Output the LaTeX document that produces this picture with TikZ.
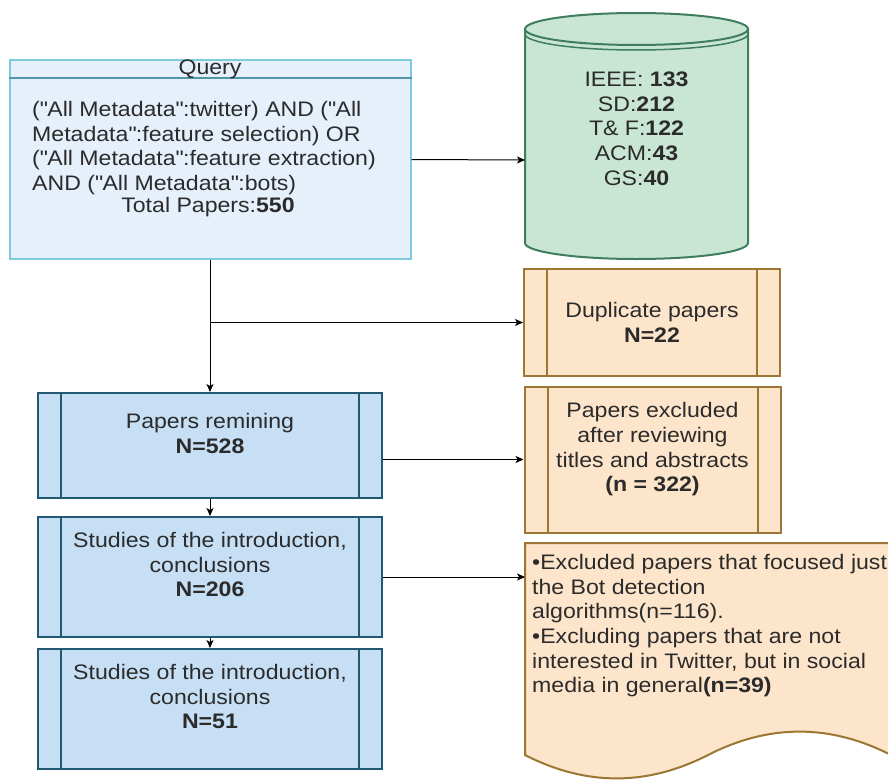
\documentclass[tikz,border=0pt]{standalone}
\usepackage{fontspec}
\setmainfont{Liberation Sans}[FakeStretch=1.1]
\usetikzlibrary{arrows.meta}

\definecolor{txt}{HTML}{2B2B2B}
\definecolor{qfill}{HTML}{E5F0FB}
\definecolor{qline}{HTML}{7DCBDB}
\definecolor{qhead}{HTML}{4F96A8}
\definecolor{dbfill}{HTML}{C9E6D5}
\definecolor{dbline}{HTML}{3F7D5E}
\definecolor{exfill}{HTML}{FDE5CB}
\definecolor{exline}{HTML}{9C7632}
\definecolor{prfill}{HTML}{C6DFF5}
\definecolor{prline}{HTML}{215872}
\newcommand{\dq}{\textquotedbl}

\begin{document}
\begin{tikzpicture}[x=1pt,y=-1pt,font=\fontsize{21}{24.7}\selectfont,text=txt,
  every node/.style={inner sep=0pt},
  sidebox/.style={draw=#1,line width=2pt,align=center,path picture={
    \draw[#1,line width=2pt]
      ([xshift=23pt]path picture bounding box.north west) -- ([xshift=23pt]path picture bounding box.south west)
      ([xshift=-23pt]path picture bounding box.north east) -- ([xshift=-23pt]path picture bounding box.south east);}},
  procbox/.style={sidebox=prline,fill=prfill,minimum width=344pt},
  exclbox/.style={sidebox=exline,fill=exfill,minimum width=256pt},
  link/.style={-{Stealth[length=8pt,width=7pt,inset=2pt]},line width=1pt}]
  \useasboundingbox (0,0) rectangle (888,779);
  \clip (0,0) rectangle (888,779);

  % query
  \node[draw=qline,fill=qfill,line width=2pt,minimum width=401pt,minimum height=199pt] (query) at (210,159.5) {};
  \draw[qhead,line width=1.5pt] ([yshift=-19pt]query.north west) -- ([yshift=-19pt]query.north east);
  \node (qtitle) at (210,69) {Query};
  \node[anchor=north west,align=left] (qterms) at (32,101) {(\dq All Metadata\dq:twitter) AND (\dq All\\Metadata\dq:feature selection) OR\\(\dq All Metadata\dq:feature extraction)\\AND (\dq All Metadata\dq:bots)};
  \node (qtotal) at (208,207) {Total Papers:\textbf{550}};

  % sources
  \filldraw[fill=dbfill,draw=dbline,line width=2pt] (525,29) -- (525,243)
    .. controls (525,251.84) and (574.9,259) .. (636.5,259)
    .. controls (698.1,259) and (748,251.84) .. (748,243) -- (748,29) -- cycle;
  \filldraw[fill=dbfill,draw=dbline,line width=2pt] (636.5,29) ellipse[x radius=111.5,y radius=16];
  \draw[dbline,line width=1.5pt] (525,34) .. controls (525,42.84) and (574.9,50) .. (636.5,50)
    .. controls (698.1,50) and (748,42.84) .. (748,34);
  \node[align=center] (db) at (636.5,128.5) {IEEE: \textbf{133}\\SD:\textbf{212}\\T\& F:\textbf{122}\\ACM:\textbf{43}\\GS:\textbf{40}};
  \coordinate (dbin) at (525,160);

  % flow
  \node[exclbox,minimum height=107pt] (dup) at (652,322.5) {Duplicate papers\\\textbf{N=22}};
  \node[procbox,minimum height=105pt] (rem) at (210,445.5) {Papers remining\\\textbf{N=528}\\\mbox{}};
  \node[exclbox,minimum height=146pt] (excl) at (652.5,459.5) {Papers excluded\\after reviewing\\titles and abstracts\\\textbf{(n = 322)}\\\mbox{}};
  \node[procbox,minimum height=120pt] (stud1) at (210,577) {Studies of the introduction,\\conclusions\\\textbf{N=206}\\\mbox{}};
  \node[procbox,minimum height=120pt] (stud2) at (210,709) {Studies of the introduction,\\conclusions\\\textbf{N=51}\\\mbox{}};

  % excluded notes (document shape)
  \filldraw[fill=exfill,draw=exline,line width=2pt] (525,543) -- (891,543) -- (891,755)
    .. controls (830,723.8) and (769,723.8) .. (708,755)
    .. controls (647,786.2) and (586,786.2) .. (525,755) -- cycle;
  \node[anchor=north west,align=left] (docnote) at (532,554) {•Excluded papers that focused just\\the Bot detection\\algorithms(n=116).\\•Excluding papers that are not\\interested in Twitter, but in social\\media in general\textbf{(n=39)}};
  \coordinate (docin) at (525,577);

  \draw[link] (query.east) -- (dbin);
  \draw[link] (query.south) -- (rem.north);
  \draw[link] (query.south |- dup.west) -- (dup.west);
  \draw[link] (rem.east |- excl.west) -- (excl.west);
  \draw[link] (stud1.east) -- (docin);
  \foreach \a/\b in {rem/stud1,stud1/stud2} \draw[link] (\a.south) -- (\b.north);
\end{tikzpicture}
\end{document}
